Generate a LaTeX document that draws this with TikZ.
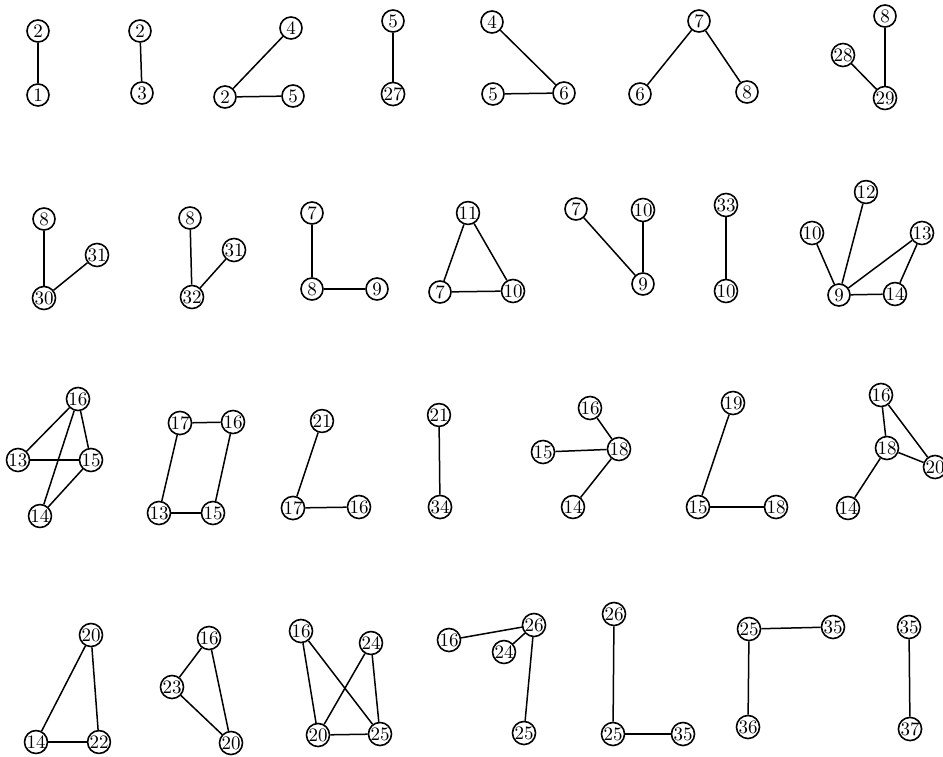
\documentclass[tikz,border=0pt]{standalone}
\usepackage{xcolor}
\definecolor{cLine}{HTML}{000000}
\usepackage{tikz}
\tikzset{
  node-v/.style={draw=cLine,line width=0.8pt,circle,inner sep=0pt,
    minimum size=11pt,font=\fontsize{9.5}{9.5}\selectfont},
  edge/.style={line width=0.75pt,draw=cLine},
}

\begin{document}
\begin{tikzpicture}[x=0.5pt,y=-0.5pt]
  \useasboundingbox (0,0) rectangle (943,756);
  % row 1
  \node[node-v] (g1-2) at (38,31) {2};
  \node[node-v] (g1-1) at (38,95) {1};
  \node[node-v] (g2-2) at (140,31) {2};
  \node[node-v] (g2-3) at (142,93) {3};
  \node[node-v] (g3-4) at (291,28) {4};
  \node[node-v] (g3-2) at (225,97) {2};
  \node[node-v] (g3-5) at (293,96) {5};
  \node[node-v] (g4-5) at (393,21) {5};
  \node[node-v] (g4-27) at (393,94) {27};
  \node[node-v] (g5-4) at (492,22) {4};
  \node[node-v] (g5-5) at (493,94) {5};
  \node[node-v] (g5-6) at (564,93) {6};
  \node[node-v] (g6-7) at (699,21) {7};
  \node[node-v] (g6-6) at (640,94) {6};
  \node[node-v] (g6-8) at (747,92) {8};
  \node[node-v] (g7-8) at (885,16) {8};
  \node[node-v] (g7-28) at (843,55) {28};
  \node[node-v] (g7-29) at (885,98) {29};
  \draw[edge] (g1-2) -- (g1-1);
  \draw[edge] (g2-2) -- (g2-3);
  \draw[edge] (g3-2) -- (g3-4);
  \draw[edge] (g3-2) -- (g3-5);
  \draw[edge] (g4-5) -- (g4-27);
  \draw[edge] (g5-4) -- (g5-6);
  \draw[edge] (g5-5) -- (g5-6);
  \draw[edge] (g6-7) -- (g6-6);
  \draw[edge] (g6-7) -- (g6-8);
  \draw[edge] (g7-8) -- (g7-29);
  \draw[edge] (g7-28) -- (g7-29);
  % row 2
  \node[node-v] (g8-8) at (44,219) {8};
  \node[node-v] (g8-31) at (97,255) {31};
  \node[node-v] (g8-30) at (44,298) {30};
  \node[node-v] (g9-8) at (190,218) {8};
  \node[node-v] (g9-31) at (234,250) {31};
  \node[node-v] (g9-32) at (192,297) {32};
  \node[node-v] (g10-7) at (312,213) {7};
  \node[node-v] (g10-8) at (312,289) {8};
  \node[node-v] (g10-9) at (377,289) {9};
  \node[node-v] (g11-11) at (468,213) {11};
  \node[node-v] (g11-7) at (440,292) {7};
  \node[node-v] (g11-10) at (513,291) {10};
  \node[node-v] (g12-7) at (576,209) {7};
  \node[node-v] (g12-10) at (643,210) {10};
  \node[node-v] (g12-9) at (643,284) {9};
  \node[node-v] (g13-33) at (726,205) {33};
  \node[node-v] (g13-10) at (726,291) {10};
  \node[node-v] (g14-10) at (812,233) {10};
  \node[node-v] (g14-12) at (866,192) {12};
  \node[node-v] (g14-13) at (922,233) {13};
  \node[node-v] (g14-9) at (839,295) {9};
  \node[node-v] (g14-14) at (895,294) {14};
  \draw[edge] (g8-8) -- (g8-30);
  \draw[edge] (g8-31) -- (g8-30);
  \draw[edge] (g9-8) -- (g9-32);
  \draw[edge] (g9-31) -- (g9-32);
  \draw[edge] (g10-7) -- (g10-8);
  \draw[edge] (g10-8) -- (g10-9);
  \draw[edge] (g11-11) -- (g11-7);
  \draw[edge] (g11-11) -- (g11-10);
  \draw[edge] (g11-7) -- (g11-10);
  \draw[edge] (g12-7) -- (g12-9);
  \draw[edge] (g12-10) -- (g12-9);
  \draw[edge] (g13-33) -- (g13-10);
  \draw[edge] (g14-9) -- (g14-10);
  \draw[edge] (g14-9) -- (g14-12);
  \draw[edge] (g14-9) -- (g14-13);
  \draw[edge] (g14-9) -- (g14-14);
  \draw[edge] (g14-13) -- (g14-14);
  % row 3
  \node[node-v] (g15-16) at (78,399) {16};
  \node[node-v] (g15-13) at (18,460) {13};
  \node[node-v] (g15-15) at (91,460) {15};
  \node[node-v] (g15-14) at (40,516) {14};
  \node[node-v] (g16-17) at (180,423) {17};
  \node[node-v] (g16-16) at (233,422) {16};
  \node[node-v] (g16-13) at (159,513) {13};
  \node[node-v] (g16-15) at (213,513) {15};
  \node[node-v] (g17-21) at (322,421) {21};
  \node[node-v] (g17-17) at (293,508) {17};
  \node[node-v] (g17-16) at (359,507) {16};
  \node[node-v] (g18-21) at (439,415) {21};
  \node[node-v] (g18-34) at (440,507) {34};
  \node[node-v] (g19-16) at (590,408) {16};
  \node[node-v] (g19-15) at (543,452) {15};
  \node[node-v] (g19-18) at (619,449) {18};
  \node[node-v] (g19-14) at (573,507) {14};
  \node[node-v] (g20-19) at (733,403) {19};
  \node[node-v] (g20-15) at (698,507) {15};
  \node[node-v] (g20-18) at (776,507) {18};
  \node[node-v] (g21-16) at (881,395) {16};
  \node[node-v] (g21-18) at (887,448) {18};
  \node[node-v] (g21-20) at (935,467) {20};
  \node[node-v] (g21-14) at (848,508) {14};
  \draw[edge] (g15-16) -- (g15-13);
  \draw[edge] (g15-16) -- (g15-14);
  \draw[edge] (g15-16) -- (g15-15);
  \draw[edge] (g15-13) -- (g15-15);
  \draw[edge] (g15-14) -- (g15-15);
  \draw[edge] (g16-17) -- (g16-16);
  \draw[edge] (g16-17) -- (g16-13);
  \draw[edge] (g16-16) -- (g16-15);
  \draw[edge] (g16-13) -- (g16-15);
  \draw[edge] (g17-21) -- (g17-17);
  \draw[edge] (g17-17) -- (g17-16);
  \draw[edge] (g18-21) -- (g18-34);
  \draw[edge] (g19-16) -- (g19-18);
  \draw[edge] (g19-15) -- (g19-18);
  \draw[edge] (g19-14) -- (g19-18);
  \draw[edge] (g20-19) -- (g20-15);
  \draw[edge] (g20-15) -- (g20-18);
  \draw[edge] (g21-16) -- (g21-18);
  \draw[edge] (g21-16) -- (g21-20);
  \draw[edge] (g21-18) -- (g21-20);
  \draw[edge] (g21-18) -- (g21-14);
  % row 4
  \node[node-v] (g22-20) at (91,635) {20};
  \node[node-v] (g22-14) at (36,742) {14};
  \node[node-v] (g22-22) at (99,742) {22};
  \node[node-v] (g23-16) at (209,638) {16};
  \node[node-v] (g23-23) at (172,687) {23};
  \node[node-v] (g23-20) at (231,743) {20};
  \node[node-v] (g24-16) at (301,631) {16};
  \node[node-v] (g24-24) at (371,643) {24};
  \node[node-v] (g24-20) at (318,735) {20};
  \node[node-v] (g24-25) at (380,734) {25};
  \node[node-v] (g25-16) at (449,640) {16};
  \node[node-v] (g25-26) at (534,625) {26};
  \node[node-v] (g25-24) at (504,652) {24};
  \node[node-v] (g25-25) at (524,733) {25};
  \node[node-v] (g26-26) at (614,614) {26};
  \node[node-v] (g26-25) at (613,734) {25};
  \node[node-v] (g26-35) at (683,734) {35};
  \node[node-v] (g27-25) at (749,629) {25};
  \node[node-v] (g27-35) at (833,627) {35};
  \node[node-v] (g27-36) at (748,727) {36};
  \node[node-v] (g28-35) at (909,627) {35};
  \node[node-v] (g28-37) at (910,729) {37};
  \draw[edge] (g22-20) -- (g22-14);
  \draw[edge] (g22-20) -- (g22-22);
  \draw[edge] (g22-14) -- (g22-22);
  \draw[edge] (g23-16) -- (g23-23);
  \draw[edge] (g23-16) -- (g23-20);
  \draw[edge] (g23-23) -- (g23-20);
  \draw[edge] (g24-16) -- (g24-20);
  \draw[edge] (g24-16) -- (g24-25);
  \draw[edge] (g24-24) -- (g24-20);
  \draw[edge] (g24-24) -- (g24-25);
  \draw[edge] (g24-20) -- (g24-25);
  \draw[edge] (g25-16) -- (g25-26);
  \draw[edge] (g25-24) -- (g25-26);
  \draw[edge] (g25-26) -- (g25-25);
  \draw[edge] (g26-26) -- (g26-25);
  \draw[edge] (g26-25) -- (g26-35);
  \draw[edge] (g27-25) -- (g27-35);
  \draw[edge] (g27-25) -- (g27-36);
  \draw[edge] (g28-35) -- (g28-37);
\end{tikzpicture}
\end{document}
